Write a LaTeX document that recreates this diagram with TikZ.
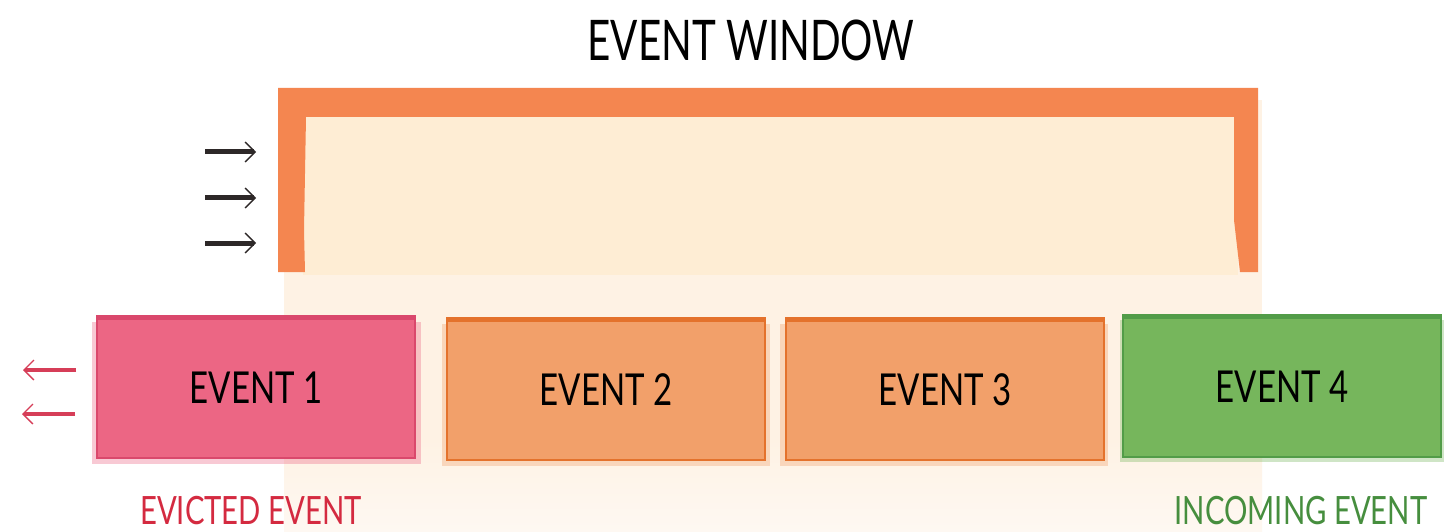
\documentclass[tikz,border=0pt]{standalone}
\usepackage{fontspec}
\setmainfont{Lato}
\newfontfamily\hand[FakeStretch=0.75]{Lato}
\newfontfamily\handt[FakeStretch=0.72]{Lato}
\usetikzlibrary{arrows.meta}
\definecolor{bracketc}{RGB}{244,134,80}
\definecolor{innerc}{RGB}{254,237,212}
\definecolor{bgc}{RGB}{254,242,228}
\definecolor{pinkfill}{RGB}{236,102,132}
\definecolor{pinkline}{RGB}{218,72,108}
\definecolor{orfill}{RGB}{242,160,106}
\definecolor{orline}{RGB}{228,114,44}
\definecolor{grfill}{RGB}{118,182,92}
\definecolor{grline}{RGB}{82,156,72}
\definecolor{redtext}{RGB}{212,42,64}
\definecolor{greentext}{RGB}{70,142,62}
\definecolor{redarrow}{RGB}{214,62,88}
\definecolor{inkc}{RGB}{45,40,40}
\tikzset{
  evbox/.style={minimum width=318pt, minimum height=140pt, line width=2pt, inner sep=0pt,
    font=\hand\fontsize{44}{48}\selectfont, text=black},
  halo/.style={opacity=0.35},
  inkarrow/.style={draw=inkc, line width=5pt, -{Straight Barb[length=10pt,width=20pt,line width=1.4pt]}},
  redarr/.style={draw=redarrow, line width=4.5pt, -{Straight Barb[length=10pt,width=20pt,line width=1.4pt]}},
  title/.style={font=\handt\fontsize{56}{60}\selectfont, text=black},
  caption/.style={font=\hand\fontsize{39}{42}\selectfont},
}
\begin{document}
\begin{tikzpicture}[x=1pt,y=-1pt]
\useasboundingbox (0,0) rectangle (1444,532);
\fill[white] (0,0) rectangle (1444,532);
% pale background behind the window
\fill[bgc] (284,100) rectangle (1262,440);
\shade[top color=bgc, bottom color={rgb,255:red,254;green,248;blue,242}] (284,439) rectangle (1262,532);
% inner of bracket
\fill[innerc] (303,114) rectangle (1238,275);
% bracket
\fill[bracketc] (278,88) -- (1258,88) -- (1258,272) -- (1240,272) -- (1234,220) -- (1234,117)
  -- (306,117) -- (304,230) -- (305,272) -- (278,272) -- cycle;
% title
\node[title] (title) at (751,40) {EVENT WINDOW};
% incoming arrows
\coordinate (a1s) at (205,152); \coordinate (a1e) at (256,152);
\coordinate (a2s) at (205,198); \coordinate (a2e) at (256,198);
\coordinate (a3s) at (205,243); \coordinate (a3e) at (256,243);
\draw[inkarrow] (a1s) -- (a1e);
\draw[inkarrow] (a2s) -- (a2e);
\draw[inkarrow] (a3s) -- (a3e);
% halos
\fill[pinkfill,halo] (92,322) rectangle (421,464);
\fill[orfill,halo] (442,324) rectangle (770,466);
\fill[orfill,halo] (780,324) rectangle (1108,466);
\fill[grfill,halo] (1120,320) rectangle (1444,462);
% event boxes
\node[evbox, fill=pinkfill, draw=pinkline] (e1) at (256,388) {EVENT 1};
\node[evbox, fill=orfill, draw=orline] (e2) at (606,390) {EVENT 2};
\node[evbox, fill=orfill, draw=orline] (e3) at (945,390) {EVENT 3};
\node[evbox, fill=grfill, draw=grline] (e4) at (1282,387) {EVENT 4};
\draw[pinkline, line width=5pt] (e1.north west) -- (e1.north east);
\draw[orline, line width=5pt] (e2.north west) -- (e2.north east);
\draw[orline, line width=5pt] (e3.north west) -- (e3.north east);
\draw[grline, line width=5pt] (e4.north west) -- (e4.north east);
% evicted arrows
\coordinate (r1s) at (76,370); \coordinate (r1e) at (23,370);
\coordinate (r2s) at (75,414); \coordinate (r2e) at (22,414);
\draw[redarr] (r1s) -- (r1e);
\draw[redarr] (r2s) -- (r2e);
% captions
\node[caption, text=redtext] (evicted) at (251,511) {EVICTED EVENT};
\node[caption, text=greentext] (incoming) at (1301,511) {INCOMING EVENT};
\end{tikzpicture}
\end{document}
